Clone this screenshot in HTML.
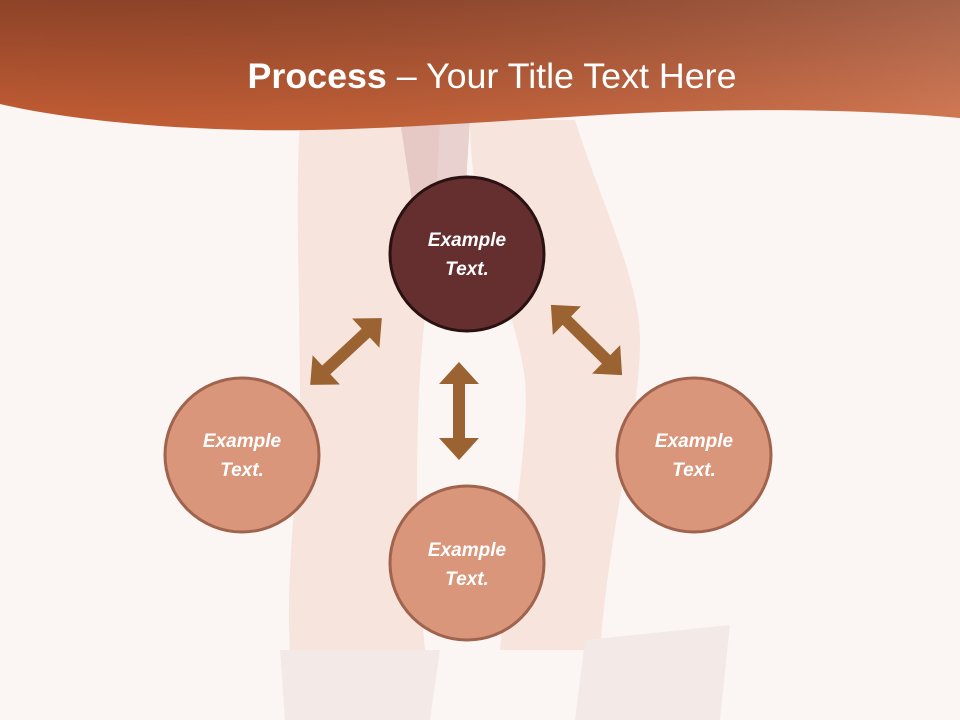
<!DOCTYPE html>
<html><head><style>
html,body{margin:0;padding:0;width:960px;height:720px;overflow:hidden;background:#fbf6f3}
svg{display:block}
</style></head><body>
<svg width="960" height="720" viewBox="0 0 960 720" xmlns="http://www.w3.org/2000/svg">
<defs>
<linearGradient id="hd" x1="0" y1="0" x2="0.15" y2="1">
<stop offset="0" stop-color="#8d4328"/><stop offset="1" stop-color="#c65f35"/>
</linearGradient>
<linearGradient id="hd2" x1="0" y1="0" x2="1" y2="0">
<stop offset="0" stop-color="#000" stop-opacity="0"/><stop offset="1" stop-color="#fff" stop-opacity="0.15"/>
</linearGradient>
<polygon id="arr" points="-49,0 -27,-20 -27,-6 27,-6 27,-20 49,0 27,20 27,6 -27,6 -27,20" fill="#9a6331"/>
</defs>
<rect width="960" height="720" fill="#fbf6f3"/>
<!-- legs -->
<path d="M300,120 L440,120 C435,250 420,330 418,420 C415,520 420,600 425,650 L290,650 C285,560 300,480 300,400 C300,300 295,200 300,120 z" fill="#f6e4dd"/>
<path d="M470,120 L575,120 C600,200 640,280 640,340 C640,420 610,520 600,650 L500,650 C510,540 530,440 525,380 C515,300 470,230 470,120 z" fill="#f6e4dd"/>
<path d="M400,120 L470,120 L465,200 L412,200 z" fill="#d8b2ae" opacity="0.55"/>
<path d="M280,650 L440,650 L430,720 L285,720 z" fill="#f3eae7"/>
<path d="M585,640 L730,625 L720,720 L575,720 z" fill="#f3eae7"/>
<!-- header -->
<path d="M0,0 H960 V118 C850,108 720,108 600,115 C450,124 350,132 250,130 C150,128 60,118 0,104 Z" fill="url(#hd)"/>
<path d="M0,0 H960 V118 C850,108 720,108 600,115 C450,124 350,132 250,130 C150,128 60,118 0,104 Z" fill="url(#hd2)"/>
<text x="492" y="88" text-anchor="middle" font-family="Liberation Sans, sans-serif" font-size="35" textLength="489" lengthAdjust="spacingAndGlyphs" fill="#fff"><tspan font-weight="bold">Process</tspan> – Your Title Text Here</text>
<!-- arrows -->
<use href="#arr" transform="translate(459,411) rotate(90)"/>
<use href="#arr" transform="translate(346,351.5) rotate(137)"/>
<use href="#arr" transform="translate(586.5,340) rotate(44.6) scale(1.02,1)"/>
<!-- circles -->
<circle cx="467" cy="254" r="77" fill="#652f30" stroke="#2a1212" stroke-width="3"/>
<circle cx="242" cy="455" r="77" fill="#da967b" stroke="#a0634e" stroke-width="3"/>
<circle cx="467" cy="563" r="77" fill="#da967b" stroke="#a0634e" stroke-width="3"/>
<circle cx="694" cy="455" r="77" fill="#da967b" stroke="#a0634e" stroke-width="3"/>
<g font-family="Liberation Sans, sans-serif" font-size="19" font-weight="bold" font-style="italic" fill="#fff" text-anchor="middle">
<text x="467" y="246">Example</text><text x="467" y="275">Text.</text>
<text x="242" y="447">Example</text><text x="242" y="476">Text.</text>
<text x="467" y="556">Example</text><text x="467" y="585">Text.</text>
<text x="694" y="447">Example</text><text x="694" y="476">Text.</text>
</g>
</svg>
</body></html>
